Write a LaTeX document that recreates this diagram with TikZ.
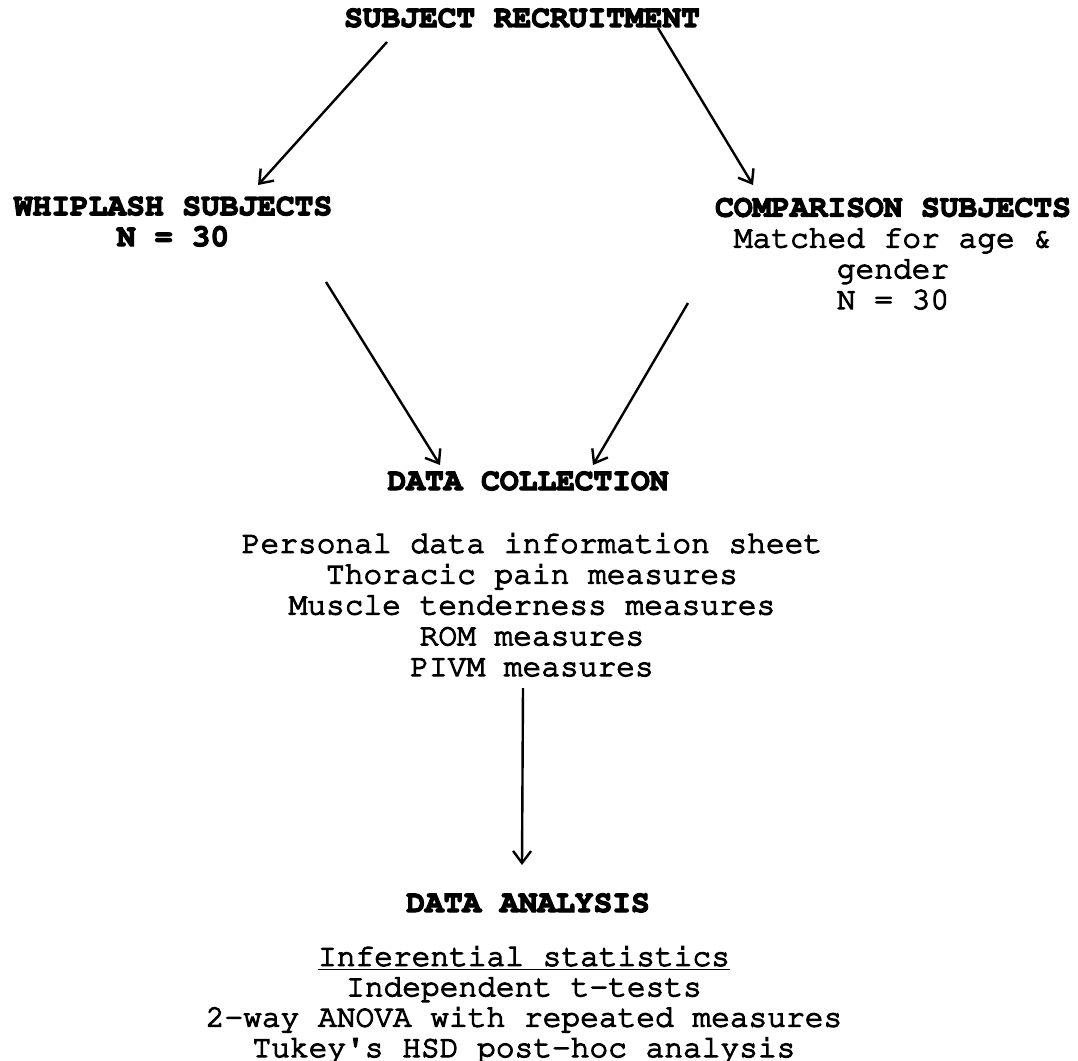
\documentclass[tikz,border=0pt]{standalone}
\usepackage[T1]{fontenc}
\renewcommand{\ttdefault}{pcr}
\usetikzlibrary{arrows.meta}

\begin{document}
\begin{tikzpicture}[
  x=0.5pt, y=-0.5pt,
  every node/.style={font=\ttfamily\fontsize{15.6}{15.4}\selectfont, inner sep=0pt, anchor=base, align=center,
    execute at begin node=\special{pdf:literal direct 2 Tr 0.6 w},
    execute at end node=\special{pdf:literal direct 0 Tr}},
  head/.style={font=\ttfamily\bfseries\fontsize{15.6}{15.4}\selectfont},
  flow/.style={-{Straight Barb[length=6pt,width=9pt]}, line width=1.2pt}
]
\useasboundingbox (0,0) rectangle (1078,1061);

% Nodes (base = last line)
\node[head] (recruit) at (522,27) {SUBJECT RECRUITMENT};
\node[head] (whiplash) at (173,246) {WHIPLASH SUBJECTS\\N = 30};
\node (compare) at (893,309) {\textbf{COMPARISON SUBJECTS}\\Matched for age \&\\gender\\N = 30};
\node[head] (collect) at (528,490) {DATA COLLECTION};
\node (measures) at (532,676) {Personal data information sheet\\Thoracic pain measures\\Muscle tenderness measures\\ROM measures\\PIVM measures};
\node[head] (analysis) at (528,912) {DATA ANALYSIS};
\node[font=\ttfamily\fontsize{15.6}{15.2}\selectfont] (stats) at (524,1057) {\underline{Inferential statistics}\\Independent t-tests\\2-way ANOVA with repeated measures\\Tukey\textquotesingle s HSD post-hoc analysis};

% Arrows
\draw[flow] ([shift={(-135,15)}]recruit.base) -- ([shift={(85,-61)}]whiplash.base);
\draw[flow] ([shift={(136,1)}]recruit.base) -- ([shift={(-140,-124)}]compare.base);
\draw[flow] ([shift={(153,36)}]whiplash.base) -- ([shift={(-88,-25)}]collect.base);
\draw[flow] ([shift={(-205,-6)}]compare.base) -- ([shift={(65,-25)}]collect.base);
\draw[flow] ([shift={(-9,12)}]measures.base) -- ([shift={(-6,-47)}]analysis.base);
\end{tikzpicture}
\end{document}
